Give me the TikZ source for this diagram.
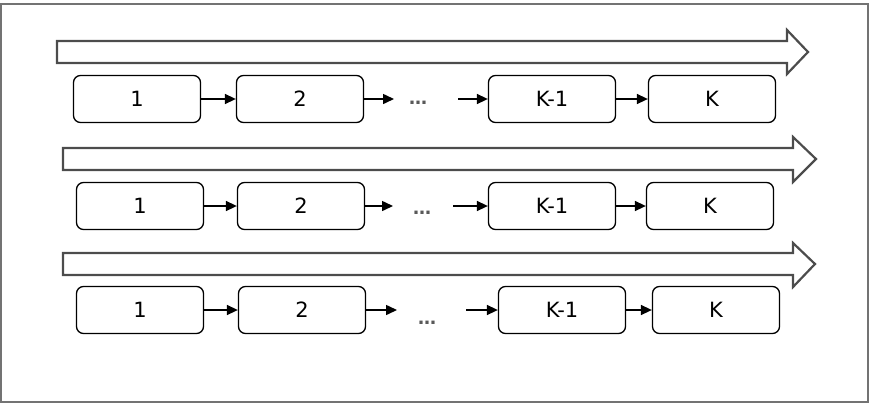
\documentclass[tikz,border=0pt]{standalone}
\usepackage{fontspec}
\setmainfont{DejaVu Sans}
\usetikzlibrary{arrows.meta}

\begin{document}
\begin{tikzpicture}[x=1pt,y=-1pt,
    stage/.style={draw,rounded corners=7pt,line width=1.3pt,minimum width=127pt,minimum height=47pt,inner sep=0pt,font=\fontsize{21}{24}\selectfont},
    link/.style={line width=1.5pt,-{Triangle[length=11pt,width=10pt]}},
    flow/.style={draw=black!70,line width=2.2pt,line join=miter},
    gap/.style={inner sep=0pt,font=\bfseries\fontsize{18}{20}\selectfont,text=black!65}]
    \useasboundingbox (0,0) rectangle (869,410);
    \draw[black!55,line width=1.5pt] (1,4) rectangle (868,402);
    % first pass
    \draw[flow] (57,41)--(787,41)--(787,30)--(808,52)--(787,74)--(787,63)--(57,63)--cycle;
    \node[stage] (a1) at (137,99){1};
    \node[stage] (a2) at (300,99){2};
    \node[gap] (adots) at (418,103){…};
    \node[stage] (a3) at (552,99){K-1};
    \node[stage] (a4) at (712,99){K};
    \coordinate (aout) at (394,99);
    \coordinate (ain) at (458,99);
    \draw[link] (a1)--(a2);
    \draw[link] (a2)--(aout);
    \draw[link] (ain)--(a3);
    \draw[link] (a3)--(a4);
    % second pass
    \draw[flow] (63,148)--(793,148)--(793,137)--(816,159)--(793,182)--(793,170)--(63,170)--cycle;
    \node[stage] (b1) at (140,206){1};
    \node[stage] (b2) at (301,206){2};
    \node[gap] (bdots) at (422,213){…};
    \node[stage] (b3) at (552,206){K-1};
    \node[stage] (b4) at (710,206){K};
    \coordinate (bout) at (393,206);
    \coordinate (bin) at (453,206);
    \draw[link] (b1)--(b2);
    \draw[link] (b2)--(bout);
    \draw[link] (bin)--(b3);
    \draw[link] (b3)--(b4);
    % third pass
    \draw[flow] (63,253)--(793,253)--(793,243)--(815,264)--(793,287)--(793,275)--(63,275)--cycle;
    \node[stage] (c1) at (140,310){1};
    \node[stage] (c2) at (302,310){2};
    \node[gap] (cdots) at (427,323){…};
    \node[stage] (c3) at (562,310){K-1};
    \node[stage] (c4) at (716,310){K};
    \coordinate (cout) at (397,310);
    \coordinate (cin) at (466,310);
    \draw[link] (c1)--(c2);
    \draw[link] (c2)--(cout);
    \draw[link] (cin)--(c3);
    \draw[link] (c3)--(c4);
\end{tikzpicture}
\end{document}
